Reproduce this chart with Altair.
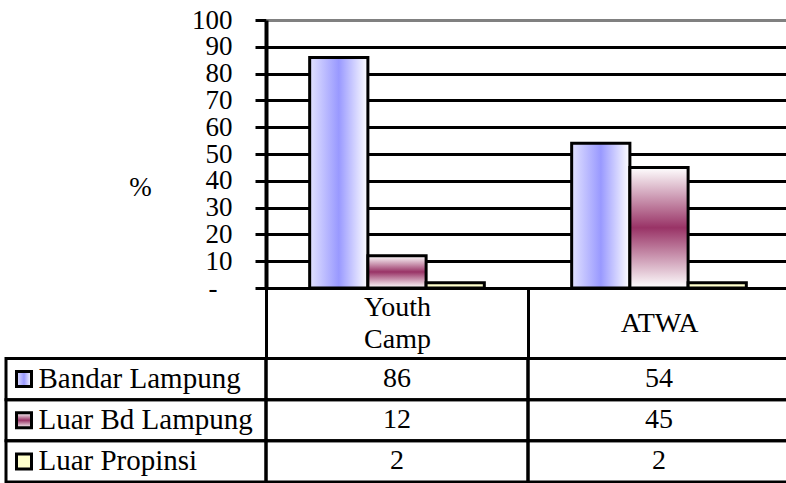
import altair as alt
import pandas as pd

# Respondent origin (%) per event
categories = ["Youth Camp", "ATWA"]
series = ["Bandar Lampung", "Luar Bd Lampung", "Luar Propinsi"]
youth_camp = [86, 12, 2]
atwa = [54, 45, 2]
y_ticks = list(range(0, 101, 10))

rows = []
for s, a, b in zip(series, youth_camp, atwa):
    rows.append({"category": categories[0], "series": s, "value": a})
    rows.append({"category": categories[1], "series": s, "value": b})
df = pd.DataFrame(rows)

FONT = "Liberation Serif"
LINE = 3

fills = {
    "Bandar Lampung": alt.LinearGradient(
        gradient="linear", x1=0, x2=1, y1=0, y2=0,
        stops=[alt.GradientStop(offset=0, color="#e2e2ff"),
               alt.GradientStop(offset=0.5, color="#9999ff"),
               alt.GradientStop(offset=1, color="#ffffff")]),
    "Luar Bd Lampung": alt.LinearGradient(
        gradient="linear", x1=0, x2=0, y1=0, y2=1,
        stops=[alt.GradientStop(offset=0, color="#ffffff"),
               alt.GradientStop(offset=0.5, color="#993366"),
               alt.GradientStop(offset=1, color="#ffffff")]),
    "Luar Propinsi": "#ffffcc",
}

# category axis doubles as the header row of the data table;
# two-word names wrap onto two lines and start half a line higher
x_axis = alt.Axis(
    title=None, orient="bottom",
    domainColor="black", domainWidth=LINE,
    ticks=True, tickBand="extent", tickSize=70, tickWidth=LINE, tickColor="black",
    labelExpr="split(datum.label, ' ')", labelFont=FONT, labelFontSize=28,
    labelColor="black", labelBaseline="middle", labelLineHeight=32,
    labelPadding=alt.condition(
        "length(split(datum.label, ' ')) > 1", alt.value(-51), alt.value(-35)
    ),
    labelAngle=0, labelOverlap=False, labelLimit=0,
)
x_enc = alt.X(
    "category:N",
    scale=alt.Scale(domain=categories, range=[0, 524], paddingInner=0, paddingOuter=0),
    axis=x_axis,
)

y_axis = alt.Axis(
    orient="left", values=y_ticks,
    labelExpr="datum.value == 0 ? '-' : datum.label",
    labelFont=FONT, labelFontSize=27, labelColor="black", labelOverlap=False,
    labelPadding=alt.condition("datum.value == 0", alt.value(38), alt.value(23)),
    tickSize=11, tickWidth=LINE, tickColor="black",
    domainColor="black", domainWidth=4,
    grid=True, gridWidth=LINE, gridOpacity=1,
    gridColor=alt.condition("datum.value == 100", alt.value("#808080"), alt.value("black")),
    title="%", titleAngle=0, titleX=-126, titleY=167, titleFont=FONT,
    titleFontSize=27, titleFontWeight="normal", titleColor="black",
    titleAlign="center", titleBaseline="middle",
)
y_bar = alt.Y("value:Q", scale=alt.Scale(domain=[0, 100]), axis=y_axis)

x_off = alt.XOffset(
    "series:N", scale=alt.Scale(domain=series, paddingInner=0, paddingOuter=0.75)
)

bar_layers = [
    alt.Chart(df)
    .transform_filter(alt.datum.series == s)
    .mark_bar(fill=fills[s], stroke="black", strokeWidth=LINE, opacity=1)
    .encode(x=x_enc, xOffset=x_off, y=y_bar)
    for s in series
]
bars = alt.layer(*bar_layers)

# data table rows below the plot
table_axis = alt.Axis(
    orient="left", title=None, domain=False, ticks=False, grid=False,
    labelAlign="left", labelPadding=228, labelFont=FONT, labelFontSize=29,
    labelColor="black", labelLimit=0, labelBaseline="middle", labelOverlap=False,
)
y_tab = alt.Y(
    "series:N",
    scale=alt.Scale(domain=series, range=[338.5, 462], paddingInner=0, paddingOuter=0),
    axis=table_axis,
)

cells = alt.Chart(df).mark_rect(
    filled=False, stroke="black", strokeWidth=LINE
).encode(x=x_enc, y=y_tab)

label_cells = (
    alt.Chart(df)
    .transform_filter(alt.datum.category == categories[0])
    .mark_rect(filled=False, stroke="black", strokeWidth=LINE)
    .encode(x=alt.value(-260), x2=alt.value(0), y=y_tab)
)

values = alt.Chart(df).mark_text(
    font=FONT, fontSize=28, color="black", baseline="middle"
).encode(x=x_enc, y=y_tab, text="value:Q")

keys = [
    alt.Chart(df)
    .transform_filter((alt.datum.series == s) & (alt.datum.category == categories[0]))
    .mark_square(size=225, fill=fills[s], stroke="black", strokeWidth=LINE, opacity=1)
    .encode(x=alt.value(-242), y=y_tab)
    for s in series
]

table = alt.layer(cells, label_cells, values, *keys)

chart = (
    alt.layer(bars, table)
    .resolve_scale(y="independent")
    .properties(
        width=520,
        height=268,
        padding={"left": 266, "top": 20, "right": 0, "bottom": 195},
        autosize=alt.AutoSizeParams(type="none"),
    )
    .configure_view(strokeWidth=0)
)

chart.save("out.html", embed_options={"renderer": "svg", "actions": False})
